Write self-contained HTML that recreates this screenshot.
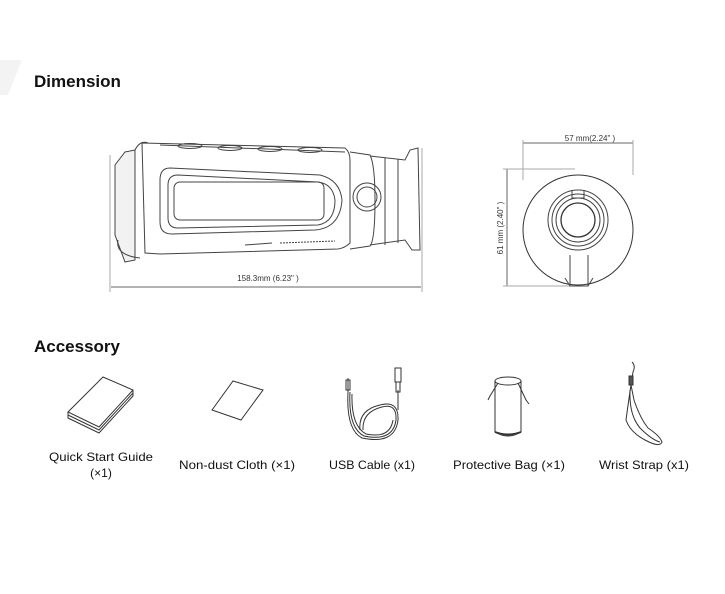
<!DOCTYPE html>
<html><head><meta charset="utf-8"><style>
html,body{margin:0;padding:0;background:#fff;}
svg{display:block;}
text{font-family:"Liberation Sans",sans-serif;}
</style></head><body>
<svg width="725" height="594" viewBox="0 0 725 594" xmlns="http://www.w3.org/2000/svg">
<polygon points="0,60 22,60 8,95 0,95" fill="#f3f3f3"/>
<text x="34" y="87" font-size="17" font-weight="bold" fill="#111">Dimension</text>
<text x="34" y="352" font-size="17" font-weight="bold" fill="#111">Accessory</text>

<!-- side view -->
<g fill="none" stroke="#444" stroke-width="1">
<line x1="110" y1="155" x2="110" y2="292" stroke="#aaa"/>
<line x1="422" y1="148" x2="422" y2="292" stroke="#aaa"/>
<line x1="111" y1="287" x2="421" y2="287" stroke="#666"/>
<path d="M115,165 L115,235 L125,262 L135,260 L135,150 L125,152 Z" fill="#f2f2f2"/>
<path d="M142,143 L345,148 Q350,152 350,160 L350,243 Q345,248 338,249 L160,254 L145,253 Z"/>
<path d="M160,145 L345,152" />
<path d="M135,150 Q140,140 148,143"/>
<path d="M350,152 L370,155 Q375,165 375,200 Q375,240 370,246 L350,249"/>
<path d="M370,156 L405,160 L410,150 L418,148 L420,250 L412,250 L405,240 L370,245"/>
<line x1="385" y1="158" x2="385" y2="245"/>
<line x1="398" y1="159" x2="398" y2="243"/>
<circle cx="367" cy="197" r="14"/>
<circle cx="367" cy="197" r="10"/>
<path d="M170,168 Q160,168 160,180 L160,222 Q160,234 172,234 L315,230 Q340,228 342,200 Q340,180 320,175 L170,168 Z"/>
<path d="M178,175 Q168,175 168,185 L168,218 Q168,228 178,228 L318,225 Q335,222 335,200 Q333,184 318,182 Z"/>
<rect x="174" y="182" width="150" height="38" rx="6"/>
<ellipse cx="190" cy="146" rx="12" ry="2.5"/>
<ellipse cx="230" cy="148" rx="12" ry="2.5"/>
<ellipse cx="270" cy="149" rx="12" ry="2.5"/>
<ellipse cx="310" cy="150" rx="12" ry="2.5"/>
<path d="M280,243 L335,241" stroke-dasharray="2,1"/>
<path d="M245,245 L272,243"/>
<path d="M118,240 Q115,255 140,258"/>
</g>
<text x="268" y="281" font-size="8" fill="#333" text-anchor="middle">158.3mm (6.23"  )</text>

<!-- front view -->
<g fill="none" stroke="#444" stroke-width="1">
<line x1="523" y1="143" x2="633" y2="143" stroke="#666"/>
<line x1="523" y1="140" x2="523" y2="180" stroke="#aaa"/>
<line x1="633" y1="140" x2="633" y2="175" stroke="#aaa"/>
<line x1="507" y1="169" x2="507" y2="286" stroke="#666"/>
<line x1="503" y1="169" x2="575" y2="169" stroke="#aaa"/>
<line x1="503" y1="286" x2="575" y2="286" stroke="#aaa"/>
<circle cx="578" cy="230" r="55" stroke="#333"/>
<circle cx="578" cy="220" r="30"/>
<circle cx="578" cy="220" r="26"/>
<circle cx="578" cy="220" r="22"/>
<circle cx="578" cy="220" r="17" stroke="#333" stroke-width="1.3"/>
<path d="M572,190 L572,198 L584,198 L584,190"/>
<path d="M570,255 L570,286 L588,286 L588,255"/>
<path d="M565,278 L570,286 M593,278 L588,286"/>
</g>
<text x="590" y="141" font-size="8" fill="#333" text-anchor="middle">57 mm(2.24"  )</text>
<text transform="translate(503,228) rotate(-90)" font-size="8" fill="#333" text-anchor="middle">61 mm (2.40"  )</text>

<!-- accessories -->
<g fill="none" stroke="#333" stroke-width="1">
<path d="M68,412 L103,377 L133,390 L99,427 Z" fill="#fff"/>
<path d="M68,412 L68,415 L99,430 L133,393 L133,390"/>
<path d="M68,415 L68,418 L99,433 L133,396 L133,393"/>
<path d="M212,410 L233,381 L263,390 L241,420 Z"/>
<!-- usb cable -->
<path d="M348,378 L348,392"/>
<rect x="346" y="380" width="4" height="10"/>
<path d="M348,392 Q346,430 362,438 Q395,445 398,420 Q399,400 380,405 Q358,410 360,430"/>
<path d="M350,392 Q348,428 364,436 Q393,442 396,420 Q397,403 382,407 Q362,412 363,430"/>
<path d="M352,394 Q351,426 366,434 Q390,439 393,420"/>
<path d="M398,390 L398,410"/>
<rect x="395" y="368" width="6" height="14"/>
<rect x="396" y="382" width="4" height="10"/>
<!-- bag -->
<ellipse cx="508" cy="381" rx="13" ry="4"/>
<path d="M495,381 L495,432 Q508,440 521,432 L521,381"/>
<path d="M495,432 Q508,437 521,432" stroke-width="2"/>
<path d="M498,383 L490,396 L488,400 M518,383 L526,400 L529,404"/>
<!-- strap -->
<path d="M632,362 Q636,366 633,372 L631,385"/>
<rect x="629" y="376" width="4" height="9" fill="#555"/>
<path d="M631,385 Q628,405 626,420 Q630,432 645,440 Q660,448 662,442 Q660,436 648,428 Q640,418 634,400 Z"/>
<path d="M630,390 Q629,415 640,428 Q652,440 660,442"/>
</g>
<g font-size="12" fill="#111" text-anchor="middle">
<text x="101" y="461" textLength="104" lengthAdjust="spacingAndGlyphs">Quick Start Guide</text>
<text x="101" y="477">(×1)</text>
<text x="237" y="469" textLength="116" lengthAdjust="spacingAndGlyphs">Non-dust Cloth (×1)</text>
<text x="372" y="469" textLength="86" lengthAdjust="spacingAndGlyphs">USB Cable (x1)</text>
<text x="509" y="469" textLength="112" lengthAdjust="spacingAndGlyphs">Protective Bag (×1)</text>
<text x="644" y="469" textLength="90" lengthAdjust="spacingAndGlyphs">Wrist Strap (x1)</text>
</g>
</svg>
</body></html>
